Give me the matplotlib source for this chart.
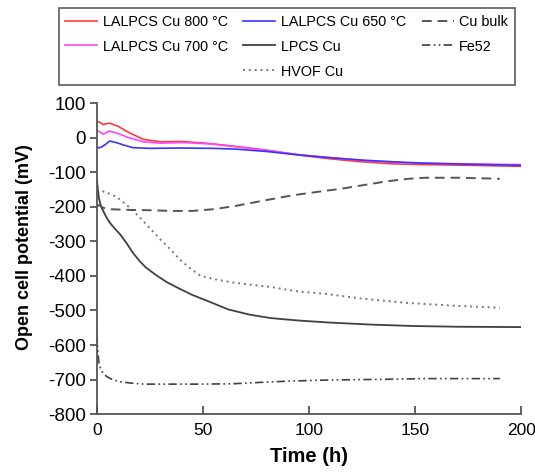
import matplotlib
matplotlib.use('Agg')
import matplotlib.pyplot as plt
from matplotlib.lines import Line2D

plt.rcParams['font.family'] = ['Liberation Sans', 'DejaVu Sans']
plt.rcParams['axes.unicode_minus'] = False

# values (time in h, potential in mV)
t_800 = [0, 1.5, 3, 6, 10, 15, 22, 30, 40, 53, 65, 80, 95, 108, 125, 140, 155, 175, 200]
v_800 = [48, 44, 38, 42, 33, 15, -5, -12, -11, -17, -25, -36, -50, -60, -70, -76, -78, -80, -83]

t_700 = [0, 1.5, 3, 6, 10, 15, 22, 30, 40, 53, 65, 80, 95, 108, 125, 140, 155, 175, 200]
v_700 = [21, 16, 10, 19, 12, 0, -12, -16, -14, -18, -26, -37, -49, -57, -66, -72, -74, -76, -78]

t_650 = [0, 2, 4, 6, 9, 13, 17, 25, 40, 55, 65, 80, 95, 108, 125, 140, 155, 175, 200]
v_650 = [-30, -28, -20, -10, -14, -22, -29, -31, -30, -31, -33, -40, -50, -57, -65, -70, -74, -77, -80]

t_lpcs = [0, 0.5, 1, 2, 3, 4.5, 6, 8, 11, 14, 17, 20, 23, 28, 33, 38, 45, 52, 62, 72, 82, 95, 110, 130, 150, 170, 200]
v_lpcs = [-120, -150, -175, -200, -212, -230, -245, -260, -280, -305, -333, -356, -375, -398, -418, -434, -455, -472, -497, -512, -522, -529, -535, -541, -545, -547, -548]

t_hvof = [0, 1.4, 5, 9.3, 15, 20, 25, 30, 35, 39, 44, 49, 56, 64, 72, 82, 95, 108, 124, 146, 168, 190]
v_hvof = [-150, -152, -160, -171, -200, -229, -262, -295, -325, -352, -378, -400, -410, -419, -425, -432, -445, -452, -465, -478, -486, -492]

t_bulk = [0, 1, 3, 6, 15, 25, 35, 45, 55, 65, 77, 92, 105, 115, 127, 137, 147, 155, 171, 190]
v_bulk = [-200, -195, -203, -207, -209, -210, -212, -212, -207, -198, -184, -167, -156, -148, -136, -126, -119, -116, -116, -119]

t_fe = [0, 0.5, 1, 2, 3, 4.5, 6, 8, 11, 16, 22, 35, 49, 64, 77, 92, 110, 137, 155, 175, 190]
v_fe = [-567, -620, -653, -672, -682, -690, -696, -701, -706, -710, -713, -713, -713, -712, -708, -704, -701, -699, -697, -697, -697]

fig = plt.figure(figsize=(5.35, 4.75), dpi=100)
ax = fig.add_axes([0.181, 0.128, 0.793, 0.655])

l800, = ax.plot(t_800, v_800, color='#ff3838', lw=1.2)
l700, = ax.plot(t_700, v_700, color='#ff45ff', lw=1.2)
l650, = ax.plot(t_650, v_650, color='#3535ff', lw=1.2)
llp, = ax.plot(t_lpcs, v_lpcs, color='#404040', lw=1.3)
lhv, = ax.plot(t_hvof, v_hvof, color='#777777', lw=1.4, ls=(0, (1, 2)))
lbu, = ax.plot(t_bulk, v_bulk, color='#555555', lw=1.4, ls=(0, (5, 3)))
lfe, = ax.plot(t_fe, v_fe, color='#404040', lw=1.2, ls=(0, (5, 2, 1, 2, 1, 2)))

ax.set_xlim(0, 200)
ax.set_ylim(-800, 100)
ax.set_xticks([0, 50, 100, 150, 200])
ax.set_yticks(range(-800, 101, 100))
ax.spines['top'].set_visible(False)
ax.spines['right'].set_visible(False)
for s in ('left', 'bottom'):
    ax.spines[s].set_color('#555555')
    ax.spines[s].set_linewidth(1.3)
ax.tick_params(axis='x', direction='in', length=6, width=1.3, color='#555555', labelsize=12.5, pad=6)
ax.tick_params(axis='y', direction='out', length=5, width=1.3, color='#555555', labelsize=13.5, pad=3)
ax.set_xlabel('Time (h)', fontsize=14.5, fontweight='bold', labelpad=7)
ax.set_ylabel('Open cell potential (mV)', fontsize=13, fontweight='bold')
ax.yaxis.set_label_coords(-0.15, 0.537)

blank = Line2D([], [], color='none')
handles = [l800, l700, blank, l650, llp, lhv, lbu, lfe, blank]
labels = ['LALPCS Cu 800 \u00b0C', 'LALPCS Cu 700 \u00b0C', '',
          'LALPCS Cu 650 \u00b0C', 'LPCS Cu', 'HVOF Cu',
          'Cu bulk', 'Fe52', '']
leg = fig.legend(handles, labels, ncol=3, loc='upper left',
                 bbox_to_anchor=(0.110, 0.5, 0.852, 0.483), mode='expand',
                 fontsize=10.4, frameon=True, fancybox=False, handlelength=2.2,
                 handletextpad=0.4, labelspacing=0.76,
                 borderaxespad=0.0, borderpad=0.45)
leg.get_frame().set_edgecolor('#333333')
leg.get_frame().set_linewidth(1.2)

plt.savefig('out.png', dpi=100)
plt.close()
